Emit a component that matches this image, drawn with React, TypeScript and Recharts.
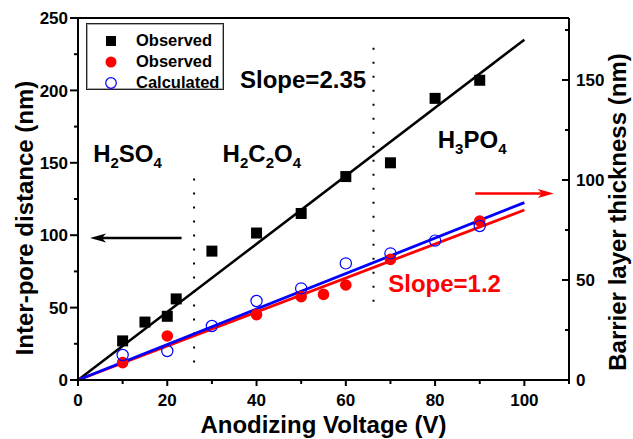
import React from 'react';
import { ComposedChart, Scatter, Line, XAxis, YAxis, ReferenceLine, ReferenceDot, Legend } from 'recharts';

// inter-pore distance (left axis, nm)
const voltsInterPore = [10, 15, 20, 22, 30, 40, 50, 60, 70, 80, 90];
const interPore = [27, 40, 44, 56, 89, 101.5, 115, 140.5, 150, 194.5, 207];

// barrier layer thickness (right axis, nm)
const voltsBarrierObs = [10, 20, 40, 50, 55, 60, 70, 90];
const barrierObs = [8.7, 22, 32.7, 41.7, 42.8, 47.5, 60.3, 79.5];
const voltsBarrierCalc = [10, 20, 30, 40, 50, 60, 70, 80, 90];
const barrierCalc = [12.5, 14.5, 27, 39.5, 45.8, 58.3, 63.3, 69.7, 77];

// linear fits, end points
const fitVolts = [0, 100];
const fitInterPore = [0, 235];
const fitBarrierObs = [0, 85];
const fitBarrierCalc = [0, 88.7];

const xTicks = [0, 10, 20, 30, 40, 50, 60, 70, 80, 90, 100, 110];
const leftTicks = [0, 25, 50, 75, 100, 125, 150, 175, 200, 225, 250];
const rightTicks = [0, 25, 50, 75, 100, 125, 150, 175];

const legendNames = ['Observed', 'Observed', 'Calculated'];

const FONT = '"Liberation Sans", Arial, Helvetica, sans-serif';

const toPoints = (xs: number[], ys: number[]) => xs.map((x, i) => ({ x, y: ys[i] }));

const bottomTick = (p: any) => {
  const v = p.payload.value;
  const major = v % 20 === 0 && v <= 100;
  return (
    <g>
      <line x1={p.x} y1={p.y} x2={p.x} y2={p.y + (major ? 6 : 4)} stroke="#000" strokeWidth={2} />
      {major && (
        <text x={p.x} y={p.y + 26} textAnchor="middle" fontFamily={FONT} fontWeight="bold" fontSize={17} fill="#000">
          {v}
        </text>
      )}
    </g>
  );
};

const leftTick = (p: any) => {
  const v = p.payload.value;
  const major = v % 50 === 0;
  return (
    <g>
      <line x1={p.x} y1={p.y} x2={p.x - (major ? 8 : 4)} y2={p.y} stroke="#000" strokeWidth={2} />
      {major && (
        <text x={p.x - 10} y={p.y} dy="0.36em" textAnchor="end" fontFamily={FONT} fontWeight="bold" fontSize={17} fill="#000">
          {v}
        </text>
      )}
    </g>
  );
};

const rightTick = (p: any) => {
  const v = p.payload.value;
  const major = v % 50 === 0;
  return (
    <g>
      <line x1={p.x} y1={p.y} x2={p.x - (major ? 7 : 4)} y2={p.y} stroke="#000" strokeWidth={2} />
      {major && (
        <text x={p.x + 7} y={p.y} dy="0.36em" textAnchor="start" fontFamily={FONT} fontWeight="bold" fontSize={17} fill="#000">
          {v}
        </text>
      )}
    </g>
  );
};

const squareShape = (p: any) => <rect x={p.cx - 5.5} y={p.cy - 5.5} width={11} height={11} fill="#000" />;
const dotShape = (p: any) => <circle cx={p.cx} cy={p.cy} r={5.8} fill="#ff0000" />;
const ringShape = (p: any) => <circle cx={p.cx} cy={p.cy} r={5.6} fill="none" stroke="#0000ff" strokeWidth={1.2} />;

const arrowShape = (color: string) => (p: any) => {
  const { x1, y1, x2, y2 } = p;
  const dir = Math.sign(x2 - x1);
  const hl = 16;
  const hw = 4.5;
  return (
    <g>
      <line x1={x1} y1={y1} x2={x2 - dir * hl * 0.7} y2={y2} stroke={color} strokeWidth={2.5} />
      <polygon
        points={`${x2},${y2} ${x2 - dir * hl},${y2 - hw} ${x2 - dir * hl * 0.75},${y2} ${x2 - dir * hl},${y2 + hw}`}
        fill={color}
      />
    </g>
  );
};

// chemical formula with subscripts, parts alternate normal / subscript
const formula = (parts: string[]) => (p: any) => (
  <text x={p.cx} y={p.cy} fontFamily={FONT} fontWeight="bold" fontSize={24} fill="#000">
    {parts.map((s, i) =>
      i % 2 === 1 ? (
        <tspan key={i} dy={6} fontSize={15}>{s}</tspan>
      ) : (
        <tspan key={i} dy={i === 0 ? 0 : -6}>{s}</tspan>
      )
    )}
  </text>
);

const plainText = (s: string, color: string) => (p: any) => (
  <text x={p.cx} y={p.cy} fontFamily={FONT} fontWeight="bold" fontSize={24} fill={color}>
    {s}
  </text>
);

const legendMarker = (i: number) => {
  if (i === 0) return <rect x={5} y={5} width={10} height={10} fill="#000" />;
  if (i === 1) return <circle cx={10} cy={10} r={5.5} fill="#ff0000" />;
  return <circle cx={10} cy={10} r={5.3} fill="none" stroke="#0000ff" strokeWidth={1.2} />;
};

const renderLegend = () => (
  <div
    style={{
      width: 138,
      height: 67,
      border: '1px solid #222',
      boxShadow: 'inset 0 0 0 1px #aaa',
      fontFamily: FONT,
      fontWeight: 'bold',
      fontSize: 16.5,
      color: '#000',
      boxSizing: 'border-box',
      paddingTop: 6,
    }}
  >
    {legendNames.map((name, i) => (
      <div key={i} style={{ display: 'flex', alignItems: 'center', height: 21, lineHeight: '21px' }}>
        <svg width={20} height={20} style={{ marginLeft: 14, marginRight: 15 }}>
          {legendMarker(i)}
        </svg>
        <span>{name}</span>
      </div>
    ))}
  </div>
);

const leftLabel = (p: any) => {
  const vb = p.viewBox;
  const cx = vb.x + 33;
  const cy = vb.y + vb.height / 2 + 19;
  return (
    <text x={cx} y={cy} transform={`rotate(-90 ${cx} ${cy})`} textAnchor="middle" fontFamily={FONT} fontWeight="bold" fontSize={24} fill="#000">
      Inter-pore distance (nm)
    </text>
  );
};

const rightLabel = (p: any) => {
  const vb = p.viewBox;
  const cx = vb.x + 57;
  const cy = vb.y + vb.height / 2 + 13;
  return (
    <text x={cx} y={cy} transform={`rotate(-90 ${cx} ${cy})`} textAnchor="middle" fontFamily={FONT} fontWeight="bold" fontSize={24} fill="#000">
      Barrier layer thickness (nm)
    </text>
  );
};

const bottomLabel = (p: any) => {
  const vb = p.viewBox;
  return (
    <text x={vb.x + vb.width / 2} y={vb.y + 53} textAnchor="middle" fontFamily={FONT} fontWeight="bold" fontSize={24} fill="#000">
      Anodizing Voltage (V)
    </text>
  );
};

export default function App() {
  return (
    <div style={{ position: 'absolute', left: 0, top: 0, background: '#fff' }}>
      <ComposedChart width={633} height={439} margin={{ top: 18, right: 0, bottom: 0, left: 0 }}>
        <XAxis
          xAxisId="b"
          type="number"
          dataKey="x"
          domain={[0, 110]}
          ticks={xTicks}
          interval={0}
          tickSize={0}
          tickMargin={0}
          tick={bottomTick}
          axisLine={{ stroke: '#000', strokeWidth: 2 }}
          height={59}
          label={{ content: bottomLabel }}
        />
        <YAxis
          yAxisId="left"
          type="number"
          domain={[0, 250]}
          ticks={leftTicks}
          interval={0}
          tickSize={0}
          tickMargin={0}
          tick={leftTick}
          axisLine={{ stroke: '#000', strokeWidth: 2 }}
          width={78}
          label={{ content: leftLabel }}
        />
        <YAxis
          yAxisId="right"
          orientation="right"
          type="number"
          domain={[0, 181]}
          ticks={rightTicks}
          interval={0}
          tickSize={0}
          tickMargin={0}
          tick={rightTick}
          axisLine={{ stroke: '#000', strokeWidth: 2 }}
          width={64}
          label={{ content: rightLabel }}
        />
        <ReferenceLine xAxisId="b" yAxisId="left" y={250} stroke="#000" strokeWidth={2} />

        <ReferenceLine
          xAxisId="b"
          yAxisId="left"
          segment={[{ x: 26, y: 12 }, { x: 26, y: 146 }]}
          stroke="#000"
          strokeWidth={2}
          strokeDasharray="2 12"
        />
        <ReferenceLine
          xAxisId="b"
          yAxisId="left"
          segment={[{ x: 66.2, y: 54 }, { x: 66.2, y: 236 }]}
          stroke="#000"
          strokeWidth={2}
          strokeDasharray="2 12"
        />
        <ReferenceLine
          xAxisId="b"
          yAxisId="left"
          segment={[{ x: 23.2, y: 98 }, { x: 2.7, y: 98 }]}
          shape={arrowShape('#000')}
        />
        <ReferenceLine
          xAxisId="b"
          yAxisId="right"
          segment={[{ x: 89, y: 93.3 }, { x: 106.6, y: 93.3 }]}
          shape={arrowShape('#ff0000')}
        />

        <Line
          xAxisId="b"
          yAxisId="left"
          data={toPoints(fitVolts, fitInterPore)}
          dataKey="y"
          type="linear"
          stroke="#000"
          strokeWidth={2.5}
          dot={false}
          legendType="none"
          isAnimationActive={false}
        />
        <Line
          xAxisId="b"
          yAxisId="right"
          data={toPoints(fitVolts, fitBarrierObs)}
          dataKey="y"
          type="linear"
          stroke="#ff0000"
          strokeWidth={2.8}
          dot={false}
          legendType="none"
          isAnimationActive={false}
        />
        <Line
          xAxisId="b"
          yAxisId="right"
          data={toPoints(fitVolts, fitBarrierCalc)}
          dataKey="y"
          type="linear"
          stroke="#0000ff"
          strokeWidth={2.8}
          dot={false}
          legendType="none"
          isAnimationActive={false}
        />

        <Scatter
          name="Observed"
          xAxisId="b"
          yAxisId="left"
          data={toPoints(voltsInterPore, interPore)}
          dataKey="y"
          fill="#000"
          shape={squareShape}
          isAnimationActive={false}
        />
        <Scatter
          name="Observed"
          xAxisId="b"
          yAxisId="right"
          data={toPoints(voltsBarrierObs, barrierObs)}
          dataKey="y"
          fill="#ff0000"
          shape={dotShape}
          isAnimationActive={false}
        />
        <Scatter
          name="Calculated"
          xAxisId="b"
          yAxisId="right"
          data={toPoints(voltsBarrierCalc, barrierCalc)}
          dataKey="y"
          fill="#0000ff"
          shape={ringShape}
          isAnimationActive={false}
        />

        <ReferenceDot xAxisId="b" yAxisId="left" x={36.3} y={202} r={0} shape={plainText('Slope=2.35', '#000')} />
        <ReferenceDot xAxisId="b" yAxisId="left" x={69.5} y={61} r={0} shape={plainText('Slope=1.2', '#ff0000')} />
        <ReferenceDot xAxisId="b" yAxisId="left" x={3.4} y={150.8} r={0} shape={formula(['H', '2', 'SO', '4'])} />
        <ReferenceDot xAxisId="b" yAxisId="left" x={32.4} y={150.8} r={0} shape={formula(['H', '2', 'C', '2', 'O', '4'])} />
        <ReferenceDot xAxisId="b" yAxisId="left" x={80.6} y={160} r={0} shape={formula(['H', '3', 'PO', '4'])} />

        <Legend
          layout="horizontal"
          verticalAlign="middle"
          align="center"
          content={renderLegend}
          wrapperStyle={{ position: 'absolute', left: 86, top: 23, width: 140, height: 69 }}
        />
      </ComposedChart>
    </div>
  );
}
